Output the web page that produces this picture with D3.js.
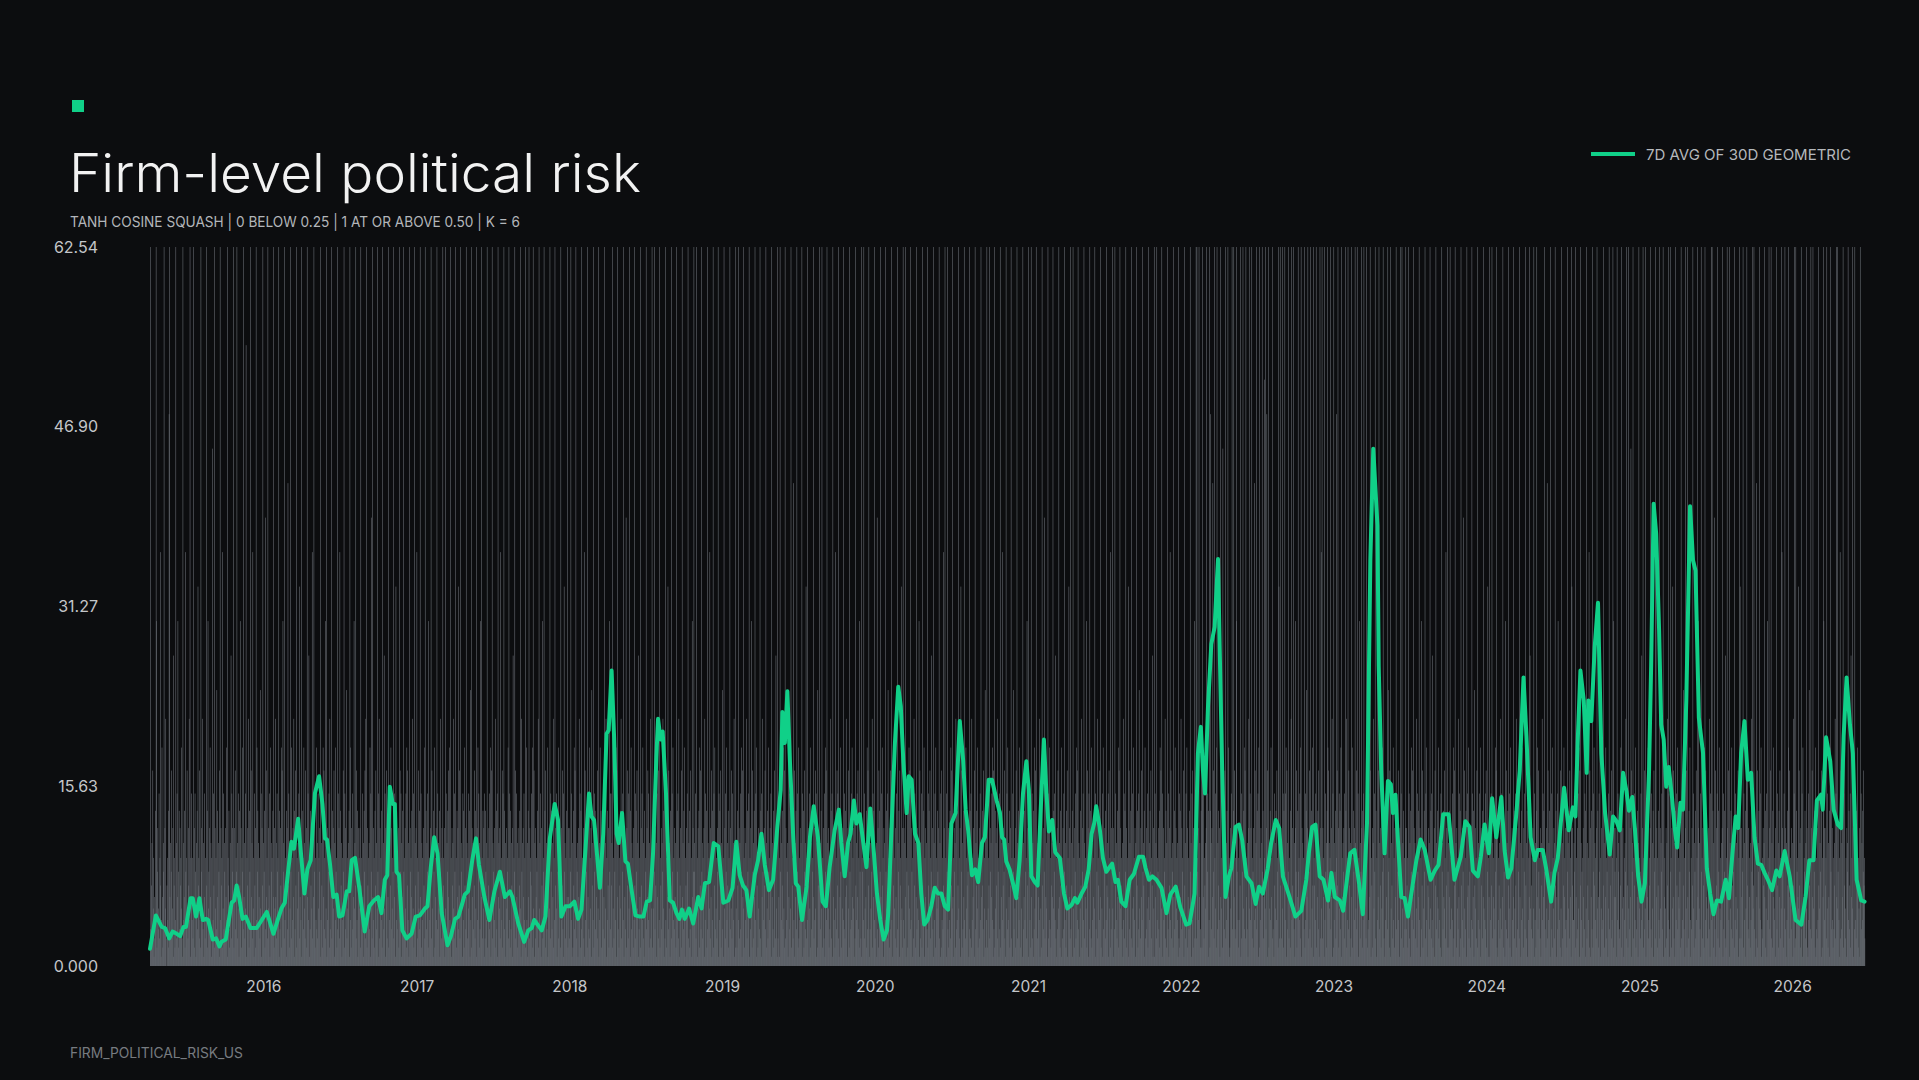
<!DOCTYPE html>
<html>
<head>
<meta charset="utf-8">
<script src="https://cdn.jsdelivr.net/npm/d3@7"></script>
<style>
html, body { margin: 0; padding: 0; background: #0c0d0f; }
svg { display: block; }
</style>
</head>
<body>
<svg></svg>
<script>
// chart texts
var titleText = 'Firm-level political risk';
var subtitleText = 'TANH COSINE SQUASH | 0 BELOW 0.25 | 1 AT OR ABOVE 0.50 | K = 6';
var legendText = '7D AVG OF 30D GEOMETRIC';
var footerText = 'FIRM_POLITICAL_RISK_US';

// axis ticks
var yMax = 62.54;
var yTicks = [0, 15.635, 31.27, 46.905, 62.54];
var yTickLabels = ['0.000', '15.63', '31.27', '46.90', '62.54'];
var xTickYears = [2016, 2017, 2018, 2019, 2020, 2021, 2022, 2023, 2024, 2025, 2026];

// first day of the series, everything below is a day offset from it
var startDate = '2015-04-05';

// green line: 7d avg of 30d geometric (day offset, value)
var lineDays = [0,14,28,36,46,54,64,72,80,86,97,102,110,118,126,134,139,150,158,166,171,181,195,201,207,213,221,229,240,255,267,279,285,295,306,314,322,330,338,344,354,360,369,376,384,394,404,412,418,423,430,438,446,452,460,470,476,482,490,500,513,524,535,545,553,561,567,573,580,585,589,595,603,613,625,635,645,657,663,671,679,687,697,711,719,729,737,745,752,760,770,779,786,799,811,823,836,848,860,866,880,894,904,912,918,926,936,945,955,967,975,983,993,1003,1014,1023,1031,1041,1049,1055,1061,1075,1083,1091,1096,1103,1109,1115,1120,1128,1136,1142,1152,1160,1170,1179,1187,1195,1202,1210,1214,1220,1225,1233,1242,1250,1258,1265,1271,1278,1288,1298,1310,1318,1326,1336,1347,1358,1370,1382,1392,1401,1409,1417,1425,1433,1445,1453,1461,1469,1479,1489,1499,1507,1511,1517,1523,1529,1537,1543,1549,1558,1569,1577,1586,1596,1607,1615,1624,1636,1646,1652,1660,1668,1674,1682,1688,1696,1702,1712,1721,1728,1737,1745,1753,1761,1764,1772,1780,1788,1794,1800,1808,1813,1820,1828,1836,1843,1850,1858,1867,1875,1883,1891,1899,1907,1915,1925,1935,1943,1949,1955,1964,1972,1979,1988,1995,2004,2012,2023,2031,2036,2041,2046,2054,2062,2070,2078,2086,2094,2100,2106,2114,2121,2128,2136,2142,2148,2156,2163,2174,2184,2192,2202,2210,2216,2226,2235,2243,2250,2256,2261,2269,2277,2285,2299,2307,2313,2321,2331,2341,2351,2363,2373,2379,2387,2395,2405,2417,2429,2438,2451,2462,2476,2484,2496,2504,2511,2516,2521,2528,2536,2544,2552,2556,2562,2570,2578,2584,2594,2602,2610,2620,2632,2642,2650,2659,2671,2679,2690,2698,2707,2723,2737,2751,2763,2769,2777,2785,2795,2804,2815,2823,2831,2843,2851,2859,2868,2878,2889,2898,2908,2916,2923,2933,2936,2942,2950,2958,2965,2970,2976,2982,2990,2998,3006,3014,3026,3036,3046,3060,3070,3079,3090,3103,3117,3132,3143,3153,3161,3173,3180,3189,3199,3207,3217,3229,3237,3245,3253,3265,3273,3282,3289,3299,3309,3316,3328,3336,3348,3356,3364,3371,3379,3390,3400,3406,3412,3418,3426,3433,3437,3444,3452,3460,3468,3477,3488,3496,3504,3512,3520,3528,3534,3542,3548,3556,3564,3572,3582,3587,3593,3599,3606,3611,3617,3623,3629,3637,3643,3649,3657,3663,3671,3680,3687,3693,3701,3711,3720,3728,3736,3744,3754,3765,3773,3781,3789,3795,3802,3810,3818,3826,3834,3842,3850,3858,3866,3876,3886,3894,3906,3918,3932,3946,3956,3965,3975,3983,3993,3997,4005,4015,4023,4033,4041,4047,4054,4062,4069,4078,4089,4097];
var lineValues = [1.5,4.4,3.4,3.3,2.4,3.0,2.8,2.6,3.4,3.4,5.9,5.9,4.3,5.9,4.0,4.1,4.0,2.3,2.4,1.7,2.1,2.3,5.5,5.7,7.0,6.0,4.1,4.3,3.3,3.3,4.0,4.7,4.0,2.8,4.1,5.0,5.5,8.2,10.8,10.2,12.8,10.1,6.3,8.4,9.2,15.0,16.5,14.1,11.1,11.0,8.9,6.0,6.2,4.3,4.4,6.5,6.5,9.2,9.4,6.8,3.0,5.2,5.7,6.0,4.6,7.5,7.9,15.6,14.1,14.1,8.2,7.9,3.1,2.4,2.8,4.3,4.4,5.0,5.2,8.6,11.2,9.8,4.6,1.8,2.6,4.1,4.3,5.3,6.2,6.5,9.2,11.1,8.8,6.0,4.0,6.5,8.2,6.0,6.5,6.0,3.7,2.1,3.1,3.3,4.0,3.6,3.1,4.3,11.0,14.1,12.7,4.3,5.2,5.2,5.6,4.1,4.9,10.4,15.0,13.0,12.7,6.8,11.5,20.2,20.5,25.7,19.9,11.5,10.7,13.3,9.1,8.9,6.3,4.4,4.3,4.3,5.6,5.7,9.8,18.2,21.5,19.7,20.4,15.0,5.7,5.5,4.6,4.1,4.9,4.1,5.0,3.7,6.0,5.0,7.2,7.3,10.7,10.4,5.5,5.7,6.8,10.8,7.9,7.0,6.6,4.3,7.9,9.2,11.5,8.8,6.6,7.5,12.1,15.3,22.1,19.4,23.9,17.9,11.2,7.2,6.9,4.0,6.9,11.2,13.9,11.2,5.6,5.2,8.6,11.8,13.6,10.7,7.8,10.7,11.5,14.4,12.4,13.2,11.4,8.6,13.7,10.7,6.3,4.0,2.3,3.1,4.6,12.1,19.4,24.3,22.6,17.9,13.3,16.5,16.2,11.5,10.7,6.3,3.6,4.0,5.2,6.8,6.3,6.3,5.2,4.9,12.4,13.3,21.3,17.9,13.6,11.8,7.9,8.4,7.3,10.7,11.2,16.2,16.2,14.4,13.3,11.2,11.0,9.1,8.4,7.2,5.9,9.2,15.0,17.8,15.3,7.8,7.3,7.0,13.3,19.7,15.0,11.7,12.7,9.9,9.4,6.3,5.0,5.3,5.9,5.5,6.3,6.9,8.4,11.5,12.4,13.9,12.1,9.4,8.2,8.9,7.3,7.5,5.6,5.2,7.5,8.0,9.5,9.5,8.5,7.5,7.8,7.5,6.8,4.6,6.2,6.9,5.1,3.6,3.7,6.3,18.5,20.8,17.0,15.0,22.5,28.0,29.5,35.4,27.7,17.0,6.0,7.8,8.5,12.1,12.3,10.9,7.8,7.2,5.4,6.9,6.3,8.5,10.7,12.7,12.0,7.8,6.0,4.3,4.8,7.5,9.8,12.1,12.3,7.8,7.5,5.7,8.1,6.0,5.7,4.8,7.2,9.8,10.1,7.2,4.5,12.4,35.3,45.0,38.3,26.1,17.0,9.8,16.1,15.8,13.3,14.9,10.9,6.0,5.9,4.3,6.3,9.2,11.0,10.1,7.5,8.3,8.8,13.2,13.2,7.5,9.5,12.6,12.1,8.3,7.8,9.5,12.3,9.8,14.6,11.2,14.7,10.0,7.7,8.5,13.3,17.0,25.1,20.0,11.2,9.2,10.1,10.1,8.5,5.6,8.1,9.4,12.4,15.5,11.8,13.8,13.0,20.0,25.7,23.1,16.8,23.1,21.3,27.7,31.6,18.5,13.3,9.7,13.0,12.6,11.8,16.8,15.2,13.5,14.7,12.0,7.8,5.6,7.2,17.0,26.1,40.2,37.6,29.2,21.0,19.7,15.6,17.3,14.6,12.1,10.3,14.2,13.6,23.1,40.0,35.3,34.4,21.6,18.5,8.5,6.3,4.5,5.7,5.6,7.5,5.9,9.7,13.0,12.0,18.5,21.3,16.2,16.8,11.2,8.9,8.8,8.1,7.5,6.6,8.3,7.8,10.0,7.8,4.0,3.6,6.0,9.2,9.2,14.4,14.9,13.6,19.9,17.8,13.6,12.3,12.0,20.0,25.1,21.0,18.5,7.5,5.7,5.6];

// grey daily bars: one code per day (0-9, a-x), the code picks a level below
var barLevels = [0,0.8,1.6,2.4,3.2,4.0,5.0,6.0,7.0,8.2,9.4,10.7,12,13.5,15,17,19,21.5,24,27,30,33,36,39,42,45,48,51,54,56,58,60,61.5,62.54];
var barCodes = [
	'4x28b3f6a173d5xk29c46e3a8m15g72b9x4c6h308a5d2qx7b39f46c1j8a25xb3e7k92d4c8a6g31x5b7d2m9a4f63c8h5x1a7e',
	'5a3x7c2e91b6d4l8a3f52x9c6h4b17e3a5x8d2k69c4g7b1a3p5e8x2c6a4i7d3b9f1x5c8a2m6e4b93c7g5x1a8d24b6j3e9c7x',
	'2c7f4a9x3b6e1d8k5c2a9g4x7b3e6s1a8c5h2d9x4f7b3m6a1e8c2x5g9d4b7a3i6e1c8x5b9d2n4f7a3x6c8e1g5b9a4d7x2c6h',
	'7b3e9a5x1d4c8g2f6k9b3x5a7d1c4o8e2b6x9g3a5c7h1d4f8x2a6b9e3l7c5x1d8a4g6b3f9c2x7e5j1a4d8b6m3c7x9e2a5g4b',
	'3e6a9c1x5b8d2g7f4a3k6x1c5b9e2h4a8x3d7c6f1b5g9a2x4e7c3m6d8b1a5f9x2e4c7i3a6b8d1x5g2c9e4a7k6b8x3f5d1c9a',
	'6c2x8a4e7b1d9f3h5x2c8a6b4g1e9n3x7c5a2d8f4b6x9e1h3c7a5d2x8b4j6e1c9f3a7x2b5d8g4c6a9x3e7b1l5d4a8c2x6f9e',
	'1b7d4x9a3c6e2g8f5b1x3c9a7d4h6e2x5b8c1m3a9f6d4x7e2b5a1c8g3x6d4b9e2k7a5c8x3f6b1d9g2a7c5x4e8b6d1h9a3c7x',
	'8a4c1x6e3b9d7f2g5x4a1c8b6h3e9x5a2d7c4l8f3x6b9a1e5d2g8c4x7b3a6e9d1i5x2c7b4a8f3d6x1c5g9e2b4k8x7a3d6c1e',
	'3d9b5x2a8c4e6g1f7x3b9a5c2h8d4e1x7b6c3m9a5f2e8x4d1b7c6a9g3x5e2d4b8c1j6a9x3f5e7b2c4a8d6x1h9b3c7e5a2x4g',
	'5b1d7x3c9a8e4g2x6f1b3c7a9d5h2x6b4e1c8k3a9x5d2f7b4g1a8c6x3e9d4b7h2a5x8c6e1d9g3b7a2x5c8f4e1l9b3a6d7x2c',
	'7c3a9x5e1b2d8g4f6x3a9b1c7h5e2d4x6a8c3m1f5b9d2x7e4g3a6c1i8b5x2e9d4a7c3f6x1b5g8d2a9c4e7x3b6h1a5d8c2k9e',
	'4e8b2x6a3d9c5g1f7x4b2a8d6h3c9e5x1b7a4n2c8f3e6x9d1g4b7a2c5x8e3d9f6b1j4a7x2c8e5g3b1d6a9x4c7f5e2b8h3a6x',
	'2a6d9x4c8b1e7g3f5x2a8c4b9h6d1e3x5a2c7l4f6b1d8x3e9g5a4c7b2x6d9e3h1a8c5f2x7b4d6g1a8c5e9x3b2d4f6a1k7c9x',
	'9b5e3x7a1c6d2g8f4x9b3a7c1h5e8d2x4b9a6m3c7f1d5x2e8g4b6a3c9x1e5d8f2b7i4a1x6c3e9g5b8d2a7x4c6f3e9b5h1a2x',
	'6a2d8x5c3b4e9g1f7x6a2c5b8h3d9e7x1a4c6k2f9b3d7x5e1g8a2c6b4x3d1e7h9a5c8f4x2b6d3g9a5c8e1x7b4d2f9a3j6c1x',
	'3c7a1x9e5b8d4g6f2x3c5a9b1h7e4d6x2c8a3o5f1b7d4x9e2g3a5c8b6x1e7d2f9b4l3a5x8c1e6g2b4d9a7x3c5f6e1b2i8a9x',
	'8b4d6x2a7c3e1g9f5x8b6c2a4h9d3e1x7b5c2m6a4f8e3x1d7g9b2a6c5x4e3d7h8a1c6f2x9b4e5g7a6c1d3x8b5e7f4a2k9c3x',
	'1a9c5x3e6b7d2g4f8x1a4b6c9h2e7d5x3a8b1n4c2f6d9x7e3g8a1c4b5x9d6e3i7a2c4f9x5b1d8g6a3c7e2x4b9d1f8a5l6c2x',
	'5c3b7x1a9d2e8g6f4x5c9a1d3h8e2b7x4c6a5k1f3b9e2x8d6g1a7c5b4x2e8d6f3a9j7c4x1b5e2g8a6d9c7x3b1e2f5a4m8c6x',
	'7a1e9x4c2b5d3g8f6x7a1c9b2h4e5d8x6a3c1l9f2b4d7x5e3g6a8c9b1x4d3e2h5a7c9f1x4b8d6g2a9c3e5x7b8d4f1a6i2c5x',
	'2d6a8x3c9b7e5g1f4x2d6b8c3h9a1e4x2d7b5m8c9f3a1x6e4g5b7d2c8x3a1e9i4a6c2f8x3b7d5g9a2c6e1x4b7d5f9a3k8c1x',
	'9a5c2x7e3b1d4g6f8x9a3b7c5h1e6d2x8a4c9n3f7b6d1x3e5g4a2c8b7x6d9e5j3a1c4f6x7b2d8g1a3c4e9x5b2d8f1a6l7c3x',
	'4b8d1x6a2c9e3g7f5x4b1a6d8h2c9e5x3b7a6k2f8c1e4x9d3g2b5a7c6x1e4d9h3a8c5f7x2b6e1g4a9c3d5x8b7e1f6a2m4c9x',
	'6c1a4x8e5b3d7g2f9x6c8a4b1h5e3d9x2c6a7l1f4b8d3x2e6g7a5c1b9x8d2e4i6a3c7f5x9b8d1g3a4c6e2x7b5d9f3a8j1c6x',
	'1e7b3x5a9c4d2g8f6x1e7c5a9h3d2b6x4e1c8m5f3a9b2x7d4g8c6a5b1x3e2d7h4c9a6f1x8b3e5g2c7a4d6x9b1e5f2c8k3a7x',
	'3xa9c5x7b24dg2xf7e3a8b6cxh9e1d5x2dqb4c7o9f3xa6e2gx4b8d5c1x7a6e2pa9c4fx3b5d8xg7a12c6e9x4bdx7f4a3kx9c5',
	'2a5c8x1e3b9x6dg4f3x7a4b1chx6e5c8x3a9c2o5f6bx4d7e1gx2a5c8bx9d37ra6x4cqf19x2b6d5g7a3x4c1e8b6d5f9a2xl3cx',
	'8c3ax6e2d9x5eg1f4b9x3a7d2hx5c86x4b1ck9f27dx9a5e3gx1c6b8a4x2e5di7cx3a9f4xb2d6g8x1a8c5ex2b7d4f1ax3cm6x',
	'3c7a1x5e9b2dxgf8b6ax4c7h1e2x5b9d3aqf8xc2e6d4gx1a7b9c3e6xdh2a5x4f8c1b3x7g2ad9c5xb6f4x8e1a7k3b9xc2d5ex',
	'6a9c3xb2d45eg7xf1a8c2bh6e9x3d1a5m7fx4b8c2e6g9xa3d1b5e7c4xi9a2f1x6b8d3g5a2c7ex4bd9f5a1c8xe3x6b2d7a4cx',
	'4c8a2x6e3b1d9g5f7x4c8b3a6h2e9d7x5c1a4k8f2b6d9x3e5g1a8c7b4x6d3e5j2a9c1f8x4b7d6g3a5c2e1x9b4d7f6a3m8c2x',
	'9b2d7x4a6c5e1g3f8x9b2c6a4h7e1d3x8b5c9n2f6a4d1x7e8g3c9b2a5x4e7d1i8c6a3f2x5b9e4g1c8a3d7x6b5e4f2c9l1a7x',
	'1c5e8x3b7a6d4g9fx2c15a8b3h6e4d7x2c9a1k5f4b3d8x6e2g9a1c5bx7d36e8h2a4c9f3x7b1d5g6a2c9e4x8b3d1f5a7xj6c4',
	'8a3c6x1e5b2dx7g4f9a63c1b8h5e7d9x4a2c6o3f5b8d1x9e4g2a6c3bx8d17e4k9a5c2f6x1b3d8g7a4c5e2x9b6d3f7a1xl8c5',
	'5b9d2x7a3c4e6g1fx8b59a2c7h4e1d6x3b8a5m2f1c7d4x2e9g8b5a3cx6d72e9i1a6c4f5x8b2d7g3a9c1e6x4b8d3f5ax2k7c9',
	'7c1ax5e9b34d8gx2f6c71a5b9hx3e82x6d4c7p1f9bx3a8e5g24c7d1bx6a93e5j8cx2a4f6x1b9d7g35a8cx4e2b6d1f9a3xm7c',
	'2a8d5x3c6b9e4gx1f7a26c3b8h5xe14x9a2c6l7f3b1dx5e8g47a6c9b2x3d5e8i4a1xc6f2x7b3d9g51a4c8x6e2b9d3f5ax7kc',
	'6b4e1x9a3c8d2gx5f7b63a9c4h1e8x5x7d2b6n4f1c8ex3d9g26a5b7cx1e49d3j2a8xc7f5x1b6d4g38a9c2x5e7b4d6f1a3xlc',
	'3c7a9x2e5b1d6gx8f4c37a2b5h9ex68x4c1a3o7f2b9dx6e5g14a3c8bx7d26e1k5a9xc4f8x3b2d7g65a1c9x4e8b2d7f3a6xmc',
	'9a2e6x4c1b5d8gx3f7a94c6b1h8ex23x5d9a7l6f8b2cx4e1g57a9d3bx6c21e5i8a4xc3f7x6b9d2g14a3c5x8e6b9d1f2a7xkc',
	'5c8a3x6e2b7d1gx9f4c52a4b8h3ex76x9c5a1m3f4b7dx2e8g63a1c9bx5d48e2j7a6xc1f4x5b3d8g92a6c1x7e4b5d9f8a3xlc',
	'3b6d9x1a4c8e2gx5f7b3'
].join('');

var W = 1919, H = 1080;
var plotLeft = 150, plotRight = 1865, plotTop = 247, plotBottom = 966;
var green = '#10d088';
var codeChars = '0123456789abcdefghijklmnopqrstuvwx';

var svg = d3.select('svg')
	.attr('width', W)
	.attr('height', H);

svg.append('rect')
	.attr('width', W)
	.attr('height', H)
	.attr('fill', '#0c0d0f');

var start = d3.utcParse('%Y-%m-%d')(startDate);
var lastDay = lineDays[lineDays.length - 1];

var x = d3.scaleUtc()
	.domain([start, d3.utcDay.offset(start, lastDay + 1)])
	.range([plotLeft, plotRight]);
var y = d3.scaleLinear()
	.domain([0, yMax])
	.range([plotBottom, plotTop]);

var bars = [];
for (var i = 0; i <= lastDay && i < barCodes.length; i++) {
	bars.push({ date: d3.utcDay.offset(start, i), value: barLevels[codeChars.indexOf(barCodes[i])] });
}
var line = lineDays.map(function (d, i) {
	return { date: d3.utcDay.offset(start, d), value: lineValues[i] };
});

svg.append('g')
	.selectAll('rect')
	.data(bars)
	.enter().append('rect')
	.attr('x', function (d) { return x(d.date); })
	.attr('width', 0.55)
	.attr('y', function (d) { return y(d.value); })
	.attr('height', function (d) { return plotBottom - y(d.value); })
	.attr('fill', '#6e737a');

svg.append('path')
	.datum(line)
	.attr('fill', 'none')
	.attr('stroke', green)
	.attr('stroke-width', 4)
	.attr('stroke-linejoin', 'round')
	.attr('stroke-linecap', 'round')
	.attr('d', d3.line()
		.x(function (d) { return x(d.date); })
		.y(function (d) { return y(d.value); }));

// axes
var yAxis = svg.append('g')
	.attr('transform', 'translate(' + plotLeft + ',0)')
	.call(d3.axisLeft(y)
		.tickValues(yTicks)
		.tickSize(0)
		.tickPadding(52)
		.tickFormat(function (d, i) { return yTickLabels[i]; }));
yAxis.select('.domain').remove();
yAxis.selectAll('text')
	.attr('fill', '#c4c6c9')
	.style('font-family', 'Inter, sans-serif')
	.style('font-size', '16px');

var xAxis = svg.append('g')
	.attr('transform', 'translate(0,' + plotBottom + ')')
	.call(d3.axisBottom(x)
		.tickValues(xTickYears.map(function (yr) { return new Date(Date.UTC(yr, 0, 1)); }))
		.tickSize(0)
		.tickPadding(14.5)
		.tickFormat(d3.utcFormat('%Y')));
xAxis.select('.domain').remove();
xAxis.selectAll('text')
	.attr('fill', '#c4c6c9')
	.style('font-family', 'Inter, sans-serif')
	.style('font-size', '15.5px');

// header
svg.append('rect')
	.attr('x', 72)
	.attr('y', 100)
	.attr('width', 12)
	.attr('height', 12)
	.attr('fill', green);

svg.append('text')
	.attr('x', 69)
	.attr('y', 192)
	.attr('fill', '#f2f2f2')
	.attr('textLength', 572)
	.attr('lengthAdjust', 'spacingAndGlyphs')
	.style('font-family', 'Inter, sans-serif')
	.style('font-weight', 300)
	.style('font-size', '53px')
	.text(titleText);

svg.append('text')
	.attr('x', 70)
	.attr('y', 227)
	.attr('fill', '#b3b6ba')
	.attr('textLength', 450)
	.attr('lengthAdjust', 'spacingAndGlyphs')
	.style('font-family', 'Inter, sans-serif')
	.style('font-size', '15px')
	.text(subtitleText);

// legend
svg.append('line')
	.attr('x1', 1591)
	.attr('x2', 1635)
	.attr('y1', 154)
	.attr('y2', 154)
	.attr('stroke', green)
	.attr('stroke-width', 4);

svg.append('text')
	.attr('x', 1646)
	.attr('y', 160)
	.attr('fill', '#b5b8bc')
	.style('font-family', 'Inter, sans-serif')
	.style('font-size', '15px')
	.text(legendText);

// footer
svg.append('text')
	.attr('x', 70)
	.attr('y', 1058)
	.attr('fill', '#777b80')
	.style('font-family', 'Inter, sans-serif')
	.style('font-size', '13.8px')
	.text(footerText);
</script>
</body>
</html>
